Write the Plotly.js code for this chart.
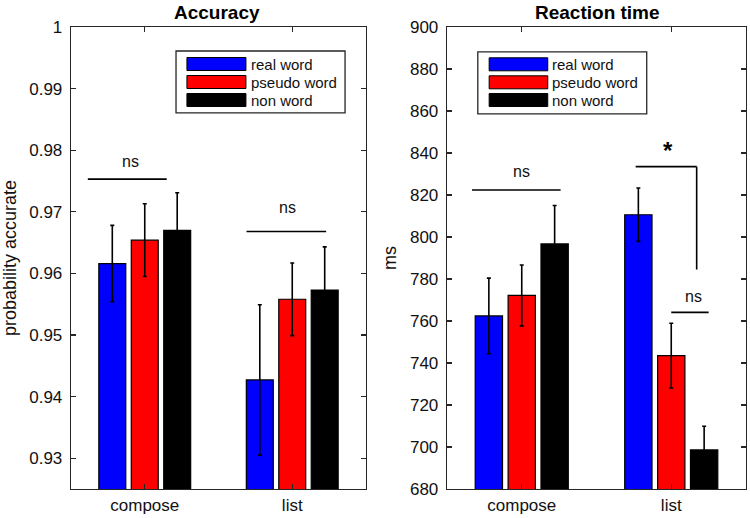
<!DOCTYPE html>
<html>
<head>
<meta charset="utf-8">
<script src="https://cdn.plot.ly/plotly-3.0.1.min.js"></script>
<style>html,body{margin:0;padding:0;background:#fff}#chart{width:750px;height:518px}</style>
</head>
<body>
<div id="chart"></div>
<script>
// ---- data ----
const categories = ['compose', 'list'];
const seriesNames = ['real word', 'pseudo word', 'non word'];
const seriesColors = ['#0000ff', '#ff0000', '#000000'];

const accReal = [0.9616, 0.9427];
const accRealErr = [0.0062, 0.0122];
const accPseudo = [0.9654, 0.9558];
const accPseudoErr = [0.0059, 0.0059];
const accNon = [0.9670, 0.9573];
const accNonErr = [0.0061, 0.0070];

const rtReal = [762.4, 810.6];
const rtRealErr = [18.0, 12.7];
const rtPseudo = [772.2, 743.5];
const rtPseudoErr = [14.5, 15.4];
const rtNon = [796.7, 698.6];
const rtNonErr = [18.3, 11.3];

const accTicks = [0.93, 0.94, 0.95, 0.96, 0.97, 0.98, 0.99, 1];
const rtTicks = [680, 700, 720, 740, 760, 780, 800, 820, 840, 860, 880, 900];

// significance markers
const accSig = [
  {x0: -0.386, x1: 0.149, y: 0.9753, label: 'ns', lx: -0.1, ly: 0.9782},
  {x0: -0.31, x1: 0.23, y: 0.9668, label: 'ns', lx: -0.034, ly: 0.9707}
];
const rtSig = [
  {x0: -0.333, x1: 0.26, y: 822.4, label: 'ns', lx: 0.0, ly: 831.1},
  {x0: 0.0, x1: 0.25, y: 764.1, label: 'ns', lx: 0.15, ly: 771.9}
];
const rtStar = {x0: -0.238, x1: 0.17, y: 833.5, yEnd: 784.5, label: '*', lx: -0.022, ly: 841};

// ---- build ----
const accVals = [accReal, accPseudo, accNon];
const accErrs = [accRealErr, accPseudoErr, accNonErr];
const rtVals = [rtReal, rtPseudo, rtNon];
const rtErrs = [rtRealErr, rtPseudoErr, rtNonErr];

const traces = [];
function addBars(vals, errs, xa, ya) {
  for (let i = 0; i < 3; i++) {
    traces.push({
      type: 'bar', x: categories, y: vals[i], name: seriesNames[i],
      xaxis: xa, yaxis: ya, showlegend: false,
      marker: {color: seriesColors[i], line: {color: '#000', width: 1.2}},
      error_y: {type: 'data', array: errs[i], visible: true, color: '#000', thickness: 1.6, width: 2}
    });
  }
}
addBars(accVals, accErrs, 'x', 'y');
addBars(rtVals, rtErrs, 'x2', 'y2');

const fam = 'Liberation Sans, Arial, Helvetica, sans-serif';
const txtFont = {family: fam, size: 17, color: '#111'};
const annFont = {family: fam, size: 16, color: '#111'};
const lineCol = '#262626';

function axisX(domain, anchor) {
  return {domain: domain, anchor: anchor, type: 'category', range: [-0.5, 1.5],
    showline: true, linecolor: lineCol, linewidth: 1.3, mirror: 'ticks',
    ticks: 'inside', ticklen: 5, tickcolor: lineCol, tickwidth: 1.2,
    tickfont: txtFont, showgrid: false, zeroline: false, fixedrange: true};
}
function axisY(domain, anchor, range, ticks, fmt, title, standoff) {
  return {domain: domain, anchor: anchor, range: range, tickvals: ticks,
    ticktext: ticks.map(fmt),
    showline: true, linecolor: lineCol, linewidth: 1.3, mirror: 'ticks',
    ticks: 'inside', ticklen: 5, tickcolor: lineCol, tickwidth: 1.2,
    ticklabelstandoff: 4,
    tickfont: txtFont, showgrid: false, zeroline: false,
    title: {text: title, font: {family: fam, size: 18, color: '#111'}, standoff: standoff}};
}

const shapes = [];
const annotations = [];

function addSig(list, xr, yr) {
  list.forEach(s => {
    shapes.push({type: 'line', xref: xr, yref: yr, x0: s.x0, x1: s.x1, y0: s.y, y1: s.y,
      line: {color: '#000', width: 1.6}});
    annotations.push({xref: xr, yref: yr, x: s.lx, y: s.ly, text: s.label, showarrow: false,
      font: annFont, yanchor: 'middle'});
  });
}
addSig(accSig.map((s, i) => i === 1 ? Object.assign({}, s, {x0: 1 + s.x0, x1: 1 + s.x1, lx: 1 + s.lx}) : s), 'x', 'y');
addSig(rtSig.map((s, i) => i === 1 ? Object.assign({}, s, {x0: 1 + s.x0, x1: 1 + s.x1, lx: 1 + s.lx}) : s), 'x2', 'y2');
shapes.push({type: 'line', xref: 'x2', yref: 'y2', x0: 1 + rtStar.x0, x1: 1 + rtStar.x1, y0: rtStar.y, y1: rtStar.y,
  line: {color: '#000', width: 1.6}});
shapes.push({type: 'line', xref: 'x2', yref: 'y2', x0: 1 + rtStar.x1, x1: 1 + rtStar.x1, y0: rtStar.y, y1: rtStar.yEnd,
  line: {color: '#000', width: 1.6}});
annotations.push({xref: 'x2', yref: 'y2', x: 1 + rtStar.lx, y: rtStar.ly, text: '<b>*</b>', showarrow: false,
  font: {family: fam, size: 24, color: '#000'}, yanchor: 'middle'});

// custom legends (in axis-domain coords)
function addLegend(xr, yr, box, sw, tx, rowsY, rowH) {
  shapes.push({type: 'rect', xref: xr, yref: yr, x0: box[0], x1: box[1], y0: box[2], y1: box[3],
    line: {color: lineCol, width: 1.3}, fillcolor: '#fff', layer: 'above'});
  for (let i = 0; i < 3; i++) {
    shapes.push({type: 'rect', xref: xr, yref: yr, x0: sw[0], x1: sw[1], y0: rowsY[i] - rowH, y1: rowsY[i] + rowH,
      line: {color: '#000', width: 1}, fillcolor: seriesColors[i], layer: 'above'});
    annotations.push({xref: xr, yref: yr, x: tx, y: rowsY[i], text: seriesNames[i], showarrow: false,
      xanchor: 'left', yanchor: 'middle', font: {family: fam, size: 15, color: '#111'}});
  }
}
addLegend('x domain', 'y domain', [0.356, 0.929, 0.814, 0.948], [0.393, 0.593], 0.604,
  [(489 - 64) / 462, (489 - 82) / 462, (489 - 100) / 462], 6.5 / 462);
addLegend('x2 domain', 'y2 domain', [0.103, 0.668, 0.812, 0.946], [0.141, 0.337], 0.346,
  [(489 - 64.3) / 462, (489 - 82.3) / 462, (489 - 100) / 462], 6.5 / 462);

// titles
annotations.push({xref: 'paper', yref: 'paper', x: 217 / 750, y: (518 - 13) / 518, text: '<b>Accuracy</b>',
  showarrow: false, xanchor: 'center', yanchor: 'middle', font: {family: fam, size: 19, color: '#000'}});
annotations.push({xref: 'paper', yref: 'paper', x: 597 / 750, y: (518 - 13) / 518, text: '<b>Reaction time</b>',
  showarrow: false, xanchor: 'center', yanchor: 'middle', font: {family: fam, size: 19, color: '#000'}});

const yDom = [(518 - 489) / 518, (518 - 27) / 518];
const layout = {
  width: 750, height: 518,
  margin: {l: 0, r: 0, t: 0, b: 0},
  paper_bgcolor: '#fff', plot_bgcolor: '#fff',
  barmode: 'group', bargap: 0.34, bargroupgap: 0.17,
  showlegend: false,
  xaxis: axisX([71 / 750, 366 / 750], 'y'),
  yaxis: axisY(yDom, 'x', [0.925, 1], accTicks, v => v === 1 ? '1' : v.toFixed(2), 'probability accurate', 10),
  xaxis2: axisX([447 / 750, 746 / 750], 'y2'),
  yaxis2: axisY(yDom, 'x2', [680, 900], rtTicks, v => String(v), 'ms', 8),
  shapes: shapes,
  annotations: annotations
};

Plotly.newPlot('chart', traces, layout, {displayModeBar: false, staticPlot: true});
</script>
</body>
</html>
